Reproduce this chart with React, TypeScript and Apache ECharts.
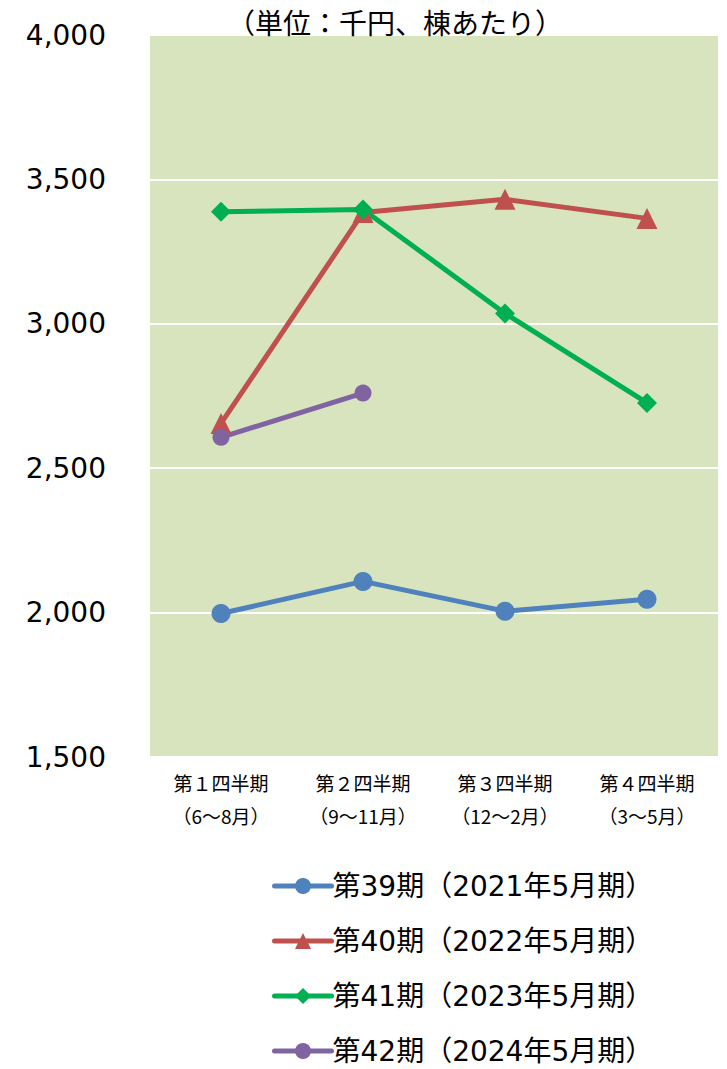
import React, { useEffect, useRef } from "react";
import * as echarts from "echarts";

const categories = ["第１四半期\n（6～8月）", "第２四半期\n（9～11月）", "第３四半期\n（12～2月）", "第４四半期\n（3～5月）"];
const seriesNames = ["第39期（2021年5月期）", "第40期（2022年5月期）", "第41期（2023年5月期）", "第42期（2024年5月期）"];
const s39 = [1997, 2108, 2005, 2046];
const s40 = [2655, 3385, 3431, 3365];
const s41 = [3388, 3396, 3036, 2726];
const s42 = [2607, 2760, null, null];
const yTicks = { min: 1500, max: 4000, interval: 500 };
const title = "（単位：千円、棟あたり）";

const colors = ["#4F81BD", "#C0504D", "#00B050", "#8064A2"];
const symbols = ["circle", "triangle", "diamond", "circle"];
const symbolSizes = [19, 21, 20, 17];

export default function App() {
  const ref = useRef<HTMLDivElement>(null);
  useEffect(() => {
    if (!ref.current) return;
    const chart = echarts.init(ref.current, null, { renderer: "svg" });
    const data = [s39, s40, s41, s42];
    chart.setOption({
      animation: false,
      backgroundColor: "#ffffff",
      title: {
        text: title,
        left: 390,
        top: 3,
        textAlign: "center",
        textStyle: { fontSize: 28, fontWeight: "normal", color: "#000", fontFamily: "Noto Sans CJK JP" },
      },
      grid: {
        left: 150,
        right: 9,
        top: 35,
        bottom: 312,
        show: true,
        backgroundColor: "#D7E4BD",
        borderWidth: 0,
      },
      xAxis: {
        type: "category",
        data: categories,
        boundaryGap: true,
        axisLine: { show: false },
        axisTick: { show: false },
        axisLabel: {
          fontSize: 19,
          lineHeight: 33,
          margin: 9,
          color: "#000",
          fontFamily: "Noto Sans CJK JP",
          interval: 0,
        },
      },
      yAxis: {
        type: "value",
        min: yTicks.min,
        max: yTicks.max,
        interval: yTicks.interval,
        axisLine: { show: false },
        axisTick: { show: false },
        splitLine: { show: true, lineStyle: { color: "#ffffff", width: 2 } },
        axisLabel: {
          fontSize: 28,
          margin: 44,
          color: "#000",
          fontFamily: "DejaVu Sans",
          formatter: (v: number) => String(v).replace(/\B(?=(\d{3})+(?!\d))/g, ","),
        },
      },
      legend: {
        orient: "vertical",
        left: 272,
        top: 872,
        padding: 0,
        itemWidth: 57,
        itemHeight: 20,
        itemGap: 27,
        lineStyle: { width: 5, cap: "round" },
        textStyle: { fontSize: 28, color: "#000", fontFamily: "DejaVu Sans, Noto Sans CJK JP", lineHeight: 28, padding: [0, 0, 0, -4] },
        data: seriesNames,
      },
      series: seriesNames.map((name, i) => ({
        name,
        type: "line",
        data: data[i],
        symbol: symbols[i],
        symbolSize: symbolSizes[i],
        connectNulls: false,
        lineStyle: { color: colors[i], width: 5 },
        itemStyle: { color: colors[i] },
      })),
    });
    return () => chart.dispose();
  }, []);
  return <div ref={ref} style={{ position: "absolute", left: 0, top: 0, width: 727, height: 1069 }} />;
}
